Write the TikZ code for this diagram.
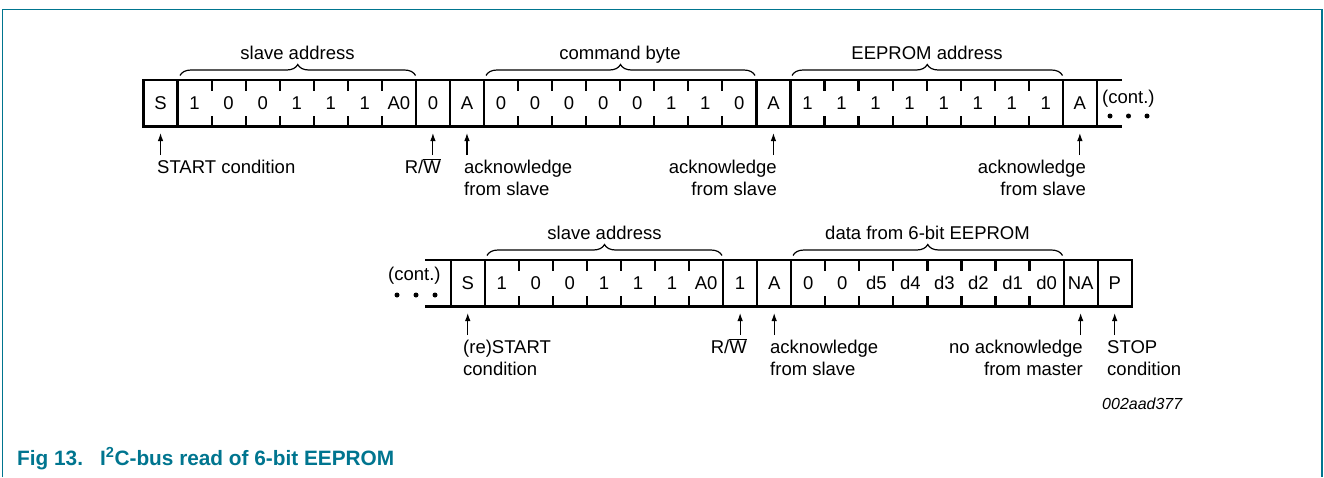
\documentclass[tikz,border=0pt]{standalone}
\usepackage{fontspec}
\setmainfont{Liberation Sans}
\usetikzlibrary{decorations.pathreplacing,calc,arrows.meta}
\definecolor{nxp}{RGB}{0,117,143}
\begin{document}
\begin{tikzpicture}[x=1pt,y=-1pt,
 boxline/.style={line width=2.2pt},
 tickline/.style={line width=2.2pt},
 cell/.style={inner sep=0pt, text height=13.3pt, text depth=0pt, font=\fontsize{18.5}{21.5}\selectfont},
 lbl/.style={inner sep=0pt, font=\fontsize{18.5}{21.5}\selectfont},
 arr/.style={line width=1.1pt, -{Latex[length=8pt,width=5.5pt]}},
 brc/.style={line width=1.2pt, decorate, decoration={brace, amplitude=11pt}},
 frameline/.style={draw=nxp, line width=1.5pt},
 captext/.style={inner sep=0pt, text=nxp, font=\fontsize{20.8}{24}\selectfont\bfseries},
 dotfill/.style={fill=black},
 ]
\useasboundingbox (0,0) rectangle (1324,477);
% frame
\draw[frameline] (2.5,477) -- (2.5,9.5) -- (1322,9.5) -- (1322,477);

\def\wc{34.05}
% ---------- row 1 ----------
\def\xa{143.5}
\foreach \t [count=\i from 0] in {S,1,0,0,1,1,1,A0,0,A,0,0,0,0,0,1,1,0,A,1,1,1,1,1,1,1,1,A}
  \node[cell] (a\i) at ({\xa+(\i+0.5)*\wc},103.3) {\t};
\draw[boxline] (1122,80) -- (\xa,80) -- (\xa,126.5) -- (1122,126.5);
\foreach \k in {1,8,9,10,18,19,27,28}
  \draw[boxline] ({\xa+\k*\wc},80) -- ({\xa+\k*\wc},126.5);
\foreach \k in {2,3,4,5,6,7,11,12,13,14,15,16,17,20,21,22,23,24,25,26}{
  \draw[tickline] ({\xa+\k*\wc},80) -- ({\xa+\k*\wc},90.5);
  \draw[tickline] ({\xa+\k*\wc},116) -- ({\xa+\k*\wc},126.5);}
% braces row 1
\draw[brc] (180,75.5) -- (415.5,75.5);
\draw[brc] (486,75.5) -- (755,75.5);
\draw[brc] (792,75.5) -- (1062.5,75.5);
\node[lbl, anchor=base] (b1) at (297.5,59.5) {slave address};
\node[lbl, anchor=base] (b2) at (620,59.5) {command byte};
\node[lbl, anchor=base] (b3) at (927,59.5) {EEPROM address};
% cont row 1
\node[lbl, anchor=base west] (c1) at (1102,103.5) {(cont.)};
\fill[dotfill] (1110,116) circle (2.5pt) (1128.5,116) circle (2.5pt) (1147,116) circle (2.5pt);
% arrows row 1
\foreach \i in {0,8,9,18,27}
  \draw[arr] ($(a\i.center)+(0,51.7)$) -- ($(a\i.center)+(0,29.7)$);
\node[lbl, anchor=base west] (s1) at (157,173.5) {START condition};
\node[lbl, anchor=base east] (rw1) at (441,173.5) {R/$\overline{\hbox{W}}$};
\node[lbl, anchor=base west] (k1a) at (464,173.5) {acknowledge};
\node[lbl, anchor=base west] (k1b) at (464,195) {from slave};
\node[lbl, anchor=base east] (k2a) at (777,173.5) {acknowledge};
\node[lbl, anchor=base east] (k2b) at (777,195) {from slave};
\node[lbl, anchor=base east] (k3a) at (1086,173.5) {acknowledge};
\node[lbl, anchor=base east] (k3b) at (1086,195) {from slave};

% ---------- row 2 ----------
\def\xb{450.7}
\foreach \t [count=\i from 0] in {S,1,0,0,1,1,1,A0,1,A,0,0,d5,d4,d3,d2,d1,d0,NA,P}
  \node[cell] (b\i) at ({\xb+(\i+0.5)*\wc},283.3) {\t};
\draw[boxline] (425,260) -- ({\xb+20*\wc},260) -- ({\xb+20*\wc},306.5) -- (425,306.5);
\foreach \k in {0,1,8,9,10,18,19}
  \draw[boxline] ({\xb+\k*\wc},260) -- ({\xb+\k*\wc},306.5);
\foreach \k in {2,3,4,5,6,7,11,12,13,14,15,16,17}{
  \draw[tickline] ({\xb+\k*\wc},260) -- ({\xb+\k*\wc},270.5);
  \draw[tickline] ({\xb+\k*\wc},296) -- ({\xb+\k*\wc},306.5);}
\draw[brc] (487,255.5) -- (722,255.5);
\draw[brc] (793,255.5) -- (1062.5,255.5);
\node[lbl, anchor=base] (b4) at (604.5,239.5) {slave address};
\node[lbl, anchor=base] (b5) at (927.5,239.5) {data from 6-bit EEPROM};
\node[lbl, anchor=base west] (c2) at (388,280.5) {(cont.)};
\fill[dotfill] (397,295) circle (2.5pt) (416,295) circle (2.5pt) (435,295) circle (2.5pt);
\foreach \i in {0,8,9,18,19}
  \draw[arr] ($(b\i.center)+(0,51.7)$) -- ($(b\i.center)+(0,29.7)$);
\node[lbl, anchor=base west] (s2a) at (463,353.5) {(re)START};
\node[lbl, anchor=base west] (s2b) at (463,375) {condition};
\node[lbl, anchor=base east] (rw2) at (747,353.5) {R/$\overline{\hbox{W}}$};
\node[lbl, anchor=base west] (k4a) at (770,353.5) {acknowledge};
\node[lbl, anchor=base west] (k4b) at (770,375) {from slave};
\node[lbl, anchor=base east] (k5a) at (1083,353.5) {no acknowledge};
\node[lbl, anchor=base east] (k5b) at (1083,375) {from master};
\node[lbl, anchor=base west] (p2a) at (1107,353.5) {STOP};
\node[lbl, anchor=base west] (p2b) at (1107,375) {condition};

\node[inner sep=0pt, anchor=base west, font=\fontsize{16}{19}\selectfont\itshape] (id) at (1102,409) {002aad377};

% caption
\node[captext, anchor=base west] (fig) at (17,465) {Fig 13.};
\node[captext, anchor=base west] (capt) at (100,465) {I\textsuperscript{2}C-bus read of 6-bit EEPROM};
\end{tikzpicture}
\end{document}
